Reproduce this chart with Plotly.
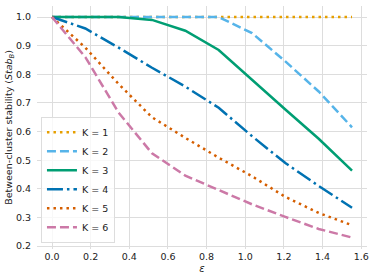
import plotly.graph_objects as go

eps = [0.0, 0.1725, 0.345, 0.5175, 0.69, 0.8625, 1.035, 1.2075, 1.38, 1.5525]

k1 = [1.0, 1.0, 1.0, 1.0, 1.0, 1.0, 1.0, 1.0, 1.0, 1.0]
k2 = [1.0, 1.0, 1.0, 1.0, 1.0, 1.0, 0.944, 0.845, 0.740, 0.615]
k3 = [1.0, 1.0, 1.0, 0.99, 0.952, 0.885, 0.78, 0.677, 0.575, 0.464]
k4 = [1.0, 0.96, 0.893, 0.823, 0.757, 0.683, 0.584, 0.49, 0.41, 0.334]
k5 = [1.0, 0.893, 0.766, 0.65, 0.578, 0.509, 0.444, 0.372, 0.316, 0.273]
k6 = [1.0, 0.86, 0.666, 0.524, 0.446, 0.395, 0.346, 0.302, 0.26, 0.23]

names = ["K = 1", "K = 2", "K = 3", "K = 4", "K = 5", "K = 6"]
series = [k1, k2, k3, k4, k5, k6]
colors = ["#E69F00", "#56B4E9", "#009E73", "#0072B2", "#D55E00", "#CC79A7"]
dashes = ["2.5px,4px", "9px,4px", "solid", "16px,4px,2.5px,4px", "2.5px,4px", "9px,4px"]

xticks = [0, 0.2, 0.4, 0.6, 0.8, 1.0, 1.2, 1.4, 1.6]
xticktext = ["0.0", "0.2", "0.4", "0.6", "0.8", "1.0", "1.2", "1.4", "1.6"]
yticks = [0.2, 0.3, 0.4, 0.5, 0.6, 0.7, 0.8, 0.9, 1.0]
yticktext = ["0.2", "0.3", "0.4", "0.5", "0.6", "0.7", "0.8", "0.9", "1.0"]

fig = go.Figure()
for nm, ys, c, d in zip(names, series, colors, dashes):
    fig.add_trace(go.Scatter(x=eps, y=ys, mode="lines", name=nm,
                             line=dict(color=c, width=2.5, dash=d)))

txt = "#222222"
fam = "DejaVu Sans"
fig.update_layout(
    width=374, height=279,
    margin=dict(l=37, r=7, t=6, b=30),
    plot_bgcolor="white", paper_bgcolor="white",
    font=dict(family=fam, size=9.5, color=txt),
    showlegend=True,
    legend=dict(x=0.012, y=0.026, xanchor="left", yanchor="bottom",
                bgcolor="rgba(255,255,255,0.8)", bordercolor="#dddddd",
                borderwidth=1, font=dict(family=fam, size=9.5, color=txt),
                tracegroupgap=0, itemwidth=30),
    xaxis=dict(range=[-0.0776, 1.630], tickvals=xticks, ticktext=xticktext,
               showgrid=True, gridcolor="#dddddd", gridwidth=1, zeroline=False,
               showline=False, ticks="", automargin=False,
               tickfont=dict(family=fam, size=9.5, color=txt),
               title=dict(text="<i>ε</i>", font=dict(family=fam, size=10, color=txt), standoff=4)),
    yaxis=dict(range=[0.19, 1.0385], tickvals=yticks, ticktext=yticktext,
               showgrid=True, gridcolor="#dddddd", gridwidth=1, zeroline=False,
               showline=False, ticks="outside", ticklen=3, tickcolor="rgba(0,0,0,0)",
               automargin=False,
               tickfont=dict(family=fam, size=9.5, color=txt),
               title=dict(text="Between-cluster stability (<i>Stab</i><sub><i>B</i></sub>)",
                          font=dict(family=fam, size=9.5, color=txt), standoff=1)),
)

fig.write_html("out.html", config={"displayModeBar": False},
               post_script="document.body.style.margin='0';document.body.style.overflow='hidden';")
